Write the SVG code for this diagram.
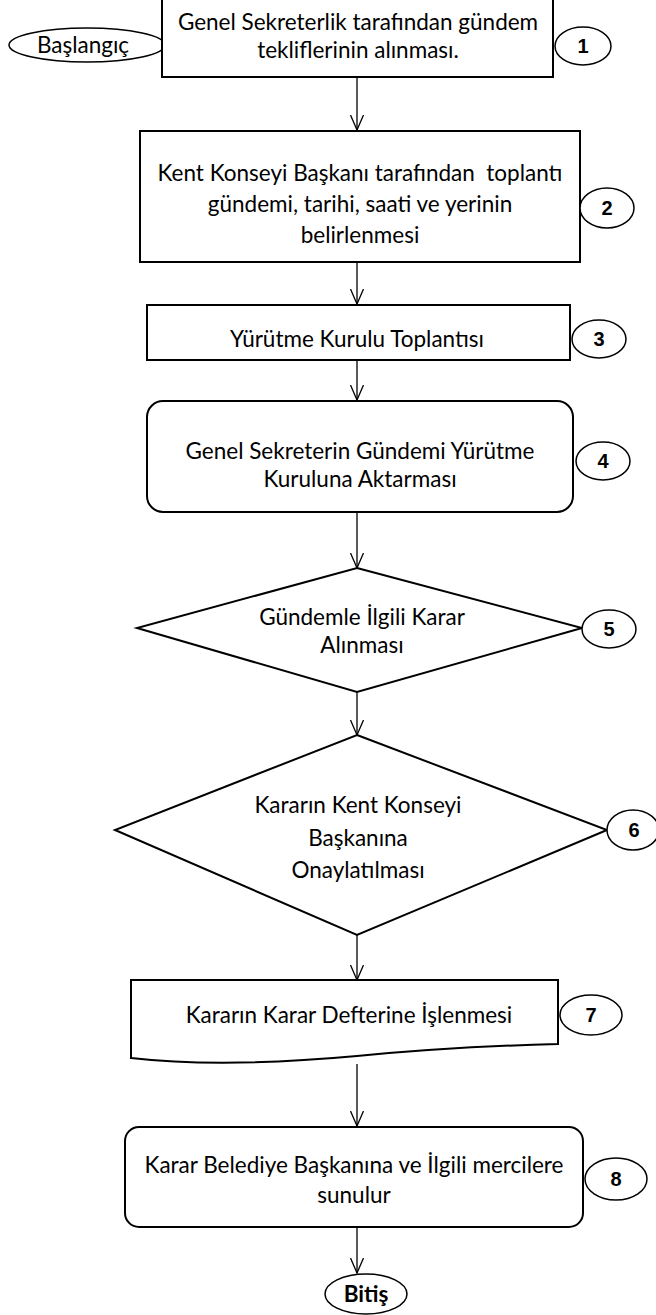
<svg xmlns="http://www.w3.org/2000/svg" width="656" height="1315" viewBox="0 0 656 1315">
<defs>
<style>
.s{fill:#fff;stroke:#000;stroke-width:2}
.c{fill:none;stroke:#000;stroke-width:1.3}
.t{font-family:Lato,"Open Sans","Noto Sans",sans-serif;font-size:22.5px;fill:#000;text-anchor:middle;white-space:pre}
.n{font-family:"Liberation Sans",Arial,sans-serif;font-size:20px;font-weight:bold;fill:#000;text-anchor:middle}
.nc{fill:#fff;stroke:#000;stroke-width:1.5}
</style>
<marker id="a" markerWidth="16" markerHeight="14" refX="15.5" refY="7" orient="auto" markerUnits="userSpaceOnUse" viewBox="0 0 16 14">
<path d="M0.5,0.5 L15.5,7 L0.5,13.5" fill="none" stroke="#000" stroke-width="1.3"/>
</marker>
</defs>
<rect width="656" height="1315" fill="#fff"/>
<g id="connectors">
<line class="c" x1="357" y1="77" x2="357" y2="130" marker-end="url(#a)"/>
<line class="c" x1="357" y1="262" x2="357" y2="304" marker-end="url(#a)"/>
<line class="c" x1="357" y1="360" x2="357" y2="400" marker-end="url(#a)"/>
<line class="c" x1="357" y1="512" x2="357" y2="568" marker-end="url(#a)"/>
<line class="c" x1="357" y1="692" x2="357" y2="735" marker-end="url(#a)"/>
<line class="c" x1="357" y1="935" x2="357" y2="980" marker-end="url(#a)"/>
<line class="c" x1="357" y1="1064" x2="357" y2="1126" marker-end="url(#a)"/>
<line class="c" x1="357" y1="1227" x2="357" y2="1273" marker-end="url(#a)"/>
</g>
<g id="start">
<ellipse class="s" cx="87" cy="45" rx="78" ry="17" style="stroke-width:1.5"/>
<text class="t" x="83" y="53">Başlangıç</text>
</g>
<g id="step1">
<rect class="s" x="162" y="-1" width="391" height="78"/>
<text class="t" x="358" y="30">Genel Sekreterlik tarafından gündem</text>
<text class="t" x="358" y="58">tekliflerinin alınması.</text>
</g>
<g id="num1"><ellipse class="nc" cx="583" cy="46" rx="28" ry="19"/><text class="n" x="583" y="53">1</text></g>
<g id="step2">
<rect class="s" x="140" y="131" width="440" height="131"/>
<text class="t" x="360" y="181">Kent Konseyi Başkanı tarafından  toplantı</text>
<text class="t" x="360" y="212">gündemi, tarihi, saati ve yerinin</text>
<text class="t" x="360" y="243">belirlenmesi</text>
</g>
<g id="num2"><ellipse class="nc" cx="607" cy="208" rx="27" ry="20"/><text class="n" x="607" y="215">2</text></g>
<g id="step3">
<rect class="s" x="147" y="305" width="423" height="55"/>
<text class="t" x="357" y="347">Yürütme Kurulu Toplantısı</text>
</g>
<g id="num3"><ellipse class="nc" cx="599" cy="339" rx="27" ry="19"/><text class="n" x="599" y="346">3</text></g>
<g id="step4">
<rect class="s" x="147" y="401" width="426" height="111" rx="16"/>
<text class="t" x="360" y="459">Genel Sekreterin Gündemi Yürütme</text>
<text class="t" x="360" y="487">Kuruluna Aktarması</text>
</g>
<g id="num4"><ellipse class="nc" cx="603" cy="461" rx="27" ry="19"/><text class="n" x="603" y="468">4</text></g>
<g id="step5">
<polygon class="s" points="357,568 582,628 357,692 137,628"/>
<text class="t" x="362" y="625">Gündemle İlgili Karar</text>
<text class="t" x="362" y="653">Alınması</text>
</g>
<g id="num5"><ellipse class="nc" cx="609" cy="629" rx="27" ry="19"/><text class="n" x="609" y="636">5</text></g>
<g id="step6">
<polygon class="s" points="357,735 607,830 357,935 115,830"/>
<text class="t" x="358" y="813">Kararın Kent Konseyi</text>
<text class="t" x="358" y="846">Başkanına</text>
<text class="t" x="358" y="878">Onaylatılması</text>
</g>
<g id="num6"><ellipse class="nc" cx="633" cy="830" rx="26" ry="20"/><text class="n" x="634" y="837">6</text></g>
<g id="step7">
<path class="s" d="M131,980 H558 V1044 C480,1046 420,1050 357,1056 C280,1063 200,1066 131,1058 Z"/>
<text class="t" x="349" y="1023">Kararın Karar Defterine İşlenmesi</text>
</g>
<g id="num7"><ellipse class="nc" cx="591" cy="1015" rx="31" ry="20"/><text class="n" x="591" y="1022">7</text></g>
<g id="step8">
<rect class="s" x="125" y="1127" width="458" height="100" rx="14"/>
<text class="t" x="354" y="1173">Karar Belediye Başkanına ve İlgili mercilere</text>
<text class="t" x="354" y="1203">sunulur</text>
</g>
<g id="num8"><ellipse class="nc" cx="616" cy="1179" rx="31" ry="21"/><text class="n" x="616" y="1186">8</text></g>
<g id="end">
<ellipse class="s" cx="366" cy="1294" rx="41" ry="20" style="stroke-width:1.5"/>
<text class="t" x="366" y="1302" style="font-weight:bold">Bitiş</text>
</g>
</svg>
